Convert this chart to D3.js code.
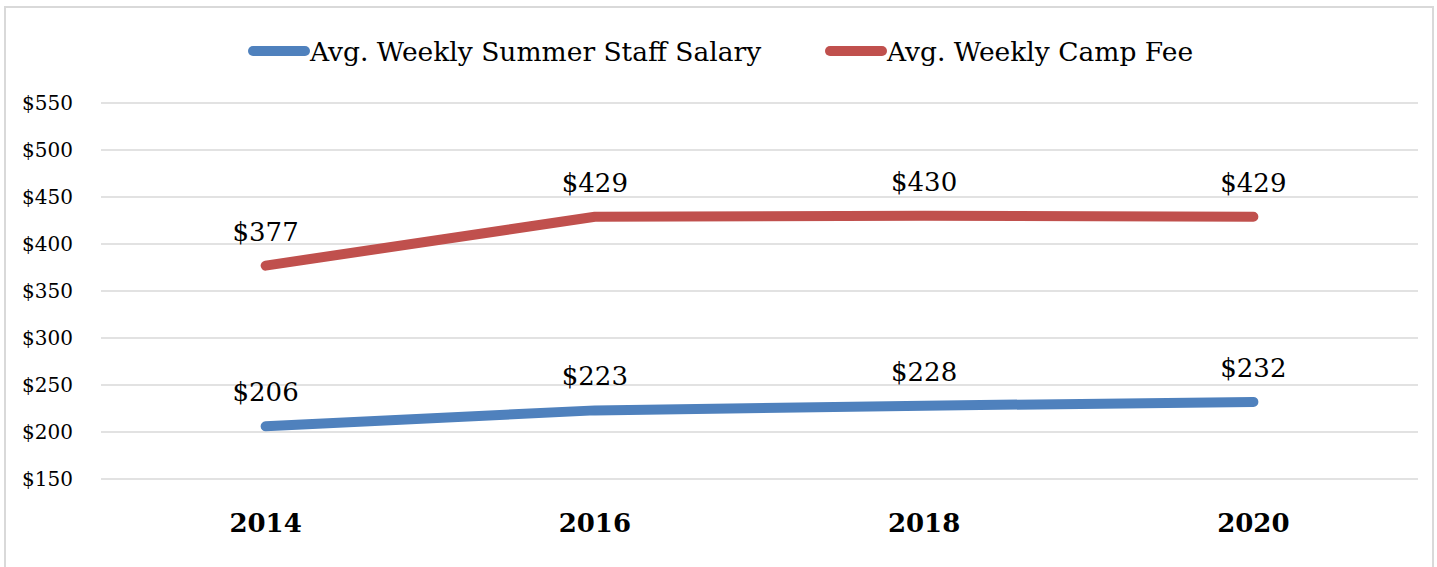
<!DOCTYPE html>
<html>
<head>
<meta charset="utf-8">
<script src="https://cdn.jsdelivr.net/npm/d3@7"></script>
<style>
  body { margin: 0; background: #fff; }
  svg { display: block; }
  text { font-family: "DejaVu Serif", serif; fill: #000; }
</style>
</head>
<body>
<div id="chart"></div>
<script>
var years = ["2014", "2016", "2018", "2020"];
var salary = [206, 223, 228, 232];
var campFee = [377, 429, 430, 429];
var yTicks = [150, 200, 250, 300, 350, 400, 450, 500, 550];
var seriesNames = ["Avg. Weekly Summer Staff Salary", "Avg. Weekly Camp Fee"];
var seriesColors = ["#4F81BD", "#C0504D"];

var W = 1437, H = 567;
var svg = d3.select("#chart").append("svg")
  .attr("width", W)
  .attr("height", H);

// outer frame
svg.append("rect")
  .attr("x", 5).attr("y", 7)
  .attr("width", 1428).attr("height", 580)
  .attr("fill", "none")
  .attr("stroke", "#d9d9d9")
  .attr("stroke-width", 2);

var x = d3.scaleBand().domain(years).range([101, 1418]);
var y = d3.scaleLinear().domain([150, 550]).range([479, 103]);

// gridlines
svg.append("g")
  .selectAll("line")
  .data(yTicks)
  .enter()
  .append("line")
  .attr("x1", 101)
  .attr("x2", 1418)
  .attr("y1", function (d) { return y(d); })
  .attr("y2", function (d) { return y(d); })
  .attr("stroke", "#d9d9d9")
  .attr("stroke-width", 1.5);

// y axis labels
var yAxis = d3.axisLeft(y)
  .tickValues(yTicks)
  .tickSize(0)
  .tickPadding(0)
  .tickFormat(function (d) { return "$" + d; });
var yg = svg.append("g")
  .attr("transform", "translate(73,0)")
  .call(yAxis);
yg.select(".domain").remove();
yg.selectAll("text")
  .attr("font-family", "DejaVu Serif")
  .attr("font-size", 20)
  .attr("fill", "#000");

// x axis labels
var xAxis = d3.axisBottom(x).tickSize(0).tickPadding(0);
var xg = svg.append("g")
  .attr("transform", "translate(0,532)")
  .call(xAxis);
xg.select(".domain").remove();
xg.selectAll("text")
  .attr("dy", 0)
  .attr("font-family", "DejaVu Serif")
  .attr("font-weight", "bold")
  .attr("font-size", 26)
  .attr("fill", "#000");

var line = d3.line()
  .x(function (d, i) { return x(years[i]) + x.bandwidth() / 2; })
  .y(function (d) { return y(d); });

var allSeries = [salary, campFee];

allSeries.forEach(function (vals, s) {
  svg.append("path")
    .datum(vals)
    .attr("d", line)
    .attr("fill", "none")
    .attr("stroke", seriesColors[s])
    .attr("stroke-width", 10)
    .attr("stroke-linecap", "round")
    .attr("stroke-linejoin", "round");

  svg.append("g")
    .selectAll("text")
    .data(vals)
    .enter()
    .append("text")
    .attr("x", function (d, i) { return x(years[i]) + x.bandwidth() / 2; })
    .attr("y", function (d) { return y(d) - 25; })
    .attr("text-anchor", "middle")
    .attr("font-size", 26)
    .text(function (d) { return "$" + d; });
});

// legend
var legendX = [253, 830];
seriesNames.forEach(function (name, s) {
  var g = svg.append("g").attr("transform", "translate(" + legendX[s] + ",51)");
  g.append("line")
    .attr("x1", 0).attr("x2", 52)
    .attr("y1", 0).attr("y2", 0)
    .attr("stroke", seriesColors[s])
    .attr("stroke-width", 10)
    .attr("stroke-linecap", "round");
  g.append("text")
    .attr("x", 57)
    .attr("y", 10)
    .attr("font-size", 26.5)
    .text(name);
});
</script>
</body>
</html>
